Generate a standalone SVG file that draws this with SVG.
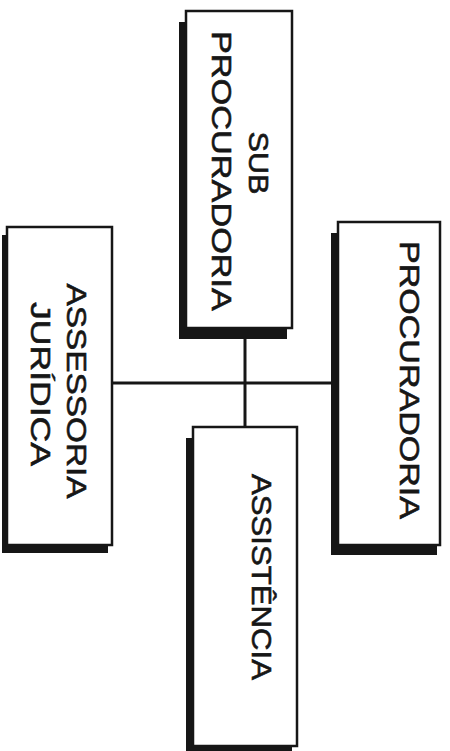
<svg xmlns="http://www.w3.org/2000/svg" width="450" height="751" viewBox="0 0 450 751">
<style>
.shadow{fill:#161616;}
.box{fill:#ffffff;stroke:#161616;stroke-width:2.5;}
.lbl{font-family:"Liberation Sans",Arial,sans-serif;font-size:28px;fill:#161616;stroke:#161616;stroke-width:0.6;text-anchor:middle;}
.conn{stroke:#161616;stroke-width:3;fill:none;}
</style>
<rect width="450" height="751" fill="#ffffff"/>
<g id="connectors">
<line class="conn" x1="245" y1="338" x2="245" y2="428"/>
<line class="conn" x1="112" y1="383" x2="338" y2="383"/>
</g>
<g id="sub-procuradoria">
<rect class="shadow" x="179" y="22" width="108" height="317"/>
<rect class="box" x="186" y="11" width="106" height="317"/>
<text class="lbl" transform="translate(249,163) rotate(90)" textLength="63" lengthAdjust="spacingAndGlyphs">SUB</text>
<text class="lbl" transform="translate(212,171) rotate(90)" textLength="280" lengthAdjust="spacingAndGlyphs">PROCURADORIA</text>
</g>
<g id="assessoria-juridica">
<rect class="shadow" x="2" y="235" width="106" height="318"/>
<rect class="box" x="7" y="227" width="105" height="318"/>
<text class="lbl" transform="translate(67,391) rotate(90)" textLength="215" lengthAdjust="spacingAndGlyphs">ASSESSORIA</text>
<text class="lbl" transform="translate(31,384) rotate(90)" textLength="164" lengthAdjust="spacingAndGlyphs">JURÍDICA</text>
</g>
<g id="procuradoria">
<rect class="shadow" x="331" y="233" width="106" height="322"/>
<rect class="box" x="338" y="222" width="102" height="323"/>
<text class="lbl" transform="translate(400,380) rotate(90)" textLength="278" lengthAdjust="spacingAndGlyphs">PROCURADORIA</text>
</g>
<g id="assistencia">
<rect class="shadow" x="186" y="438" width="106" height="320"/>
<rect class="box" x="193" y="427" width="104" height="319"/>
<text class="lbl" transform="translate(252,577) rotate(90)" textLength="206" lengthAdjust="spacingAndGlyphs">ASSISTÊNCIA</text>
</g>
</svg>
